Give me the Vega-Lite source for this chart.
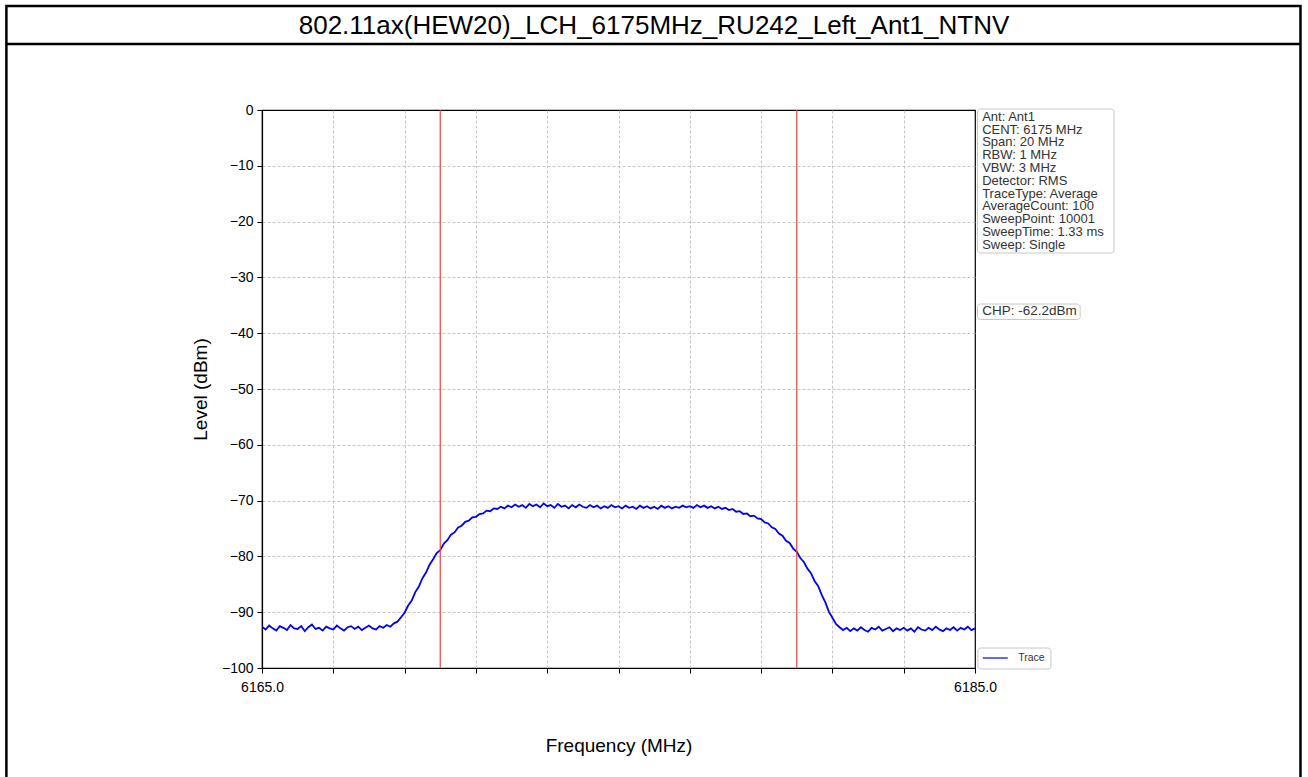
{
  "$schema": "https://vega.github.io/schema/vega-lite/v6.json",
  "width": 713,
  "height": 558,
  "autosize": {"type": "none"},
  "padding": {"left": 262, "top": 110, "right": 333, "bottom": 109},
  "background": "white",
  "title": {
    "text": "802.11ax(HEW20)_LCH_6175MHz_RU242_Left_Ant1_NTNV",
    "anchor": "middle",
    "frame": "group",
    "dx": 35.5,
    "offset": -55,
    "baseline": "alphabetic",
    "font": "Liberation Sans",
    "fontSize": 26,
    "fontWeight": "normal",
    "color": "black"
  },
  "datasets": {
    "trace": [
      {"freq": 6165.0, "level": -92.6}, {"freq": 6165.1, "level": -93.1}, {"freq": 6165.2, "level": -92.4}, {"freq": 6165.3, "level": -92.9}, {"freq": 6165.4, "level": -93.3},
      {"freq": 6165.5, "level": -92.5}, {"freq": 6165.6, "level": -92.8}, {"freq": 6165.7, "level": -93.2}, {"freq": 6165.8, "level": -92.3}, {"freq": 6165.9, "level": -92.9},
      {"freq": 6166.0, "level": -93.0}, {"freq": 6166.1, "level": -92.5}, {"freq": 6166.2, "level": -93.4}, {"freq": 6166.3, "level": -92.7}, {"freq": 6166.4, "level": -92.2},
      {"freq": 6166.5, "level": -93.0}, {"freq": 6166.6, "level": -92.8}, {"freq": 6166.7, "level": -93.3}, {"freq": 6166.8, "level": -92.6}, {"freq": 6166.9, "level": -92.9},
      {"freq": 6167.0, "level": -93.1}, {"freq": 6167.1, "level": -92.4}, {"freq": 6167.2, "level": -92.9}, {"freq": 6167.3, "level": -93.3}, {"freq": 6167.4, "level": -92.7},
      {"freq": 6167.5, "level": -92.5}, {"freq": 6167.6, "level": -93.0}, {"freq": 6167.7, "level": -92.6}, {"freq": 6167.8, "level": -93.2}, {"freq": 6167.9, "level": -92.8},
      {"freq": 6168.0, "level": -92.4}, {"freq": 6168.1, "level": -92.9}, {"freq": 6168.2, "level": -93.1}, {"freq": 6168.3, "level": -92.5}, {"freq": 6168.4, "level": -92.8},
      {"freq": 6168.5, "level": -92.3}, {"freq": 6168.6, "level": -92.6}, {"freq": 6168.7, "level": -92.0}, {"freq": 6168.8, "level": -91.7}, {"freq": 6168.9, "level": -90.9},
      {"freq": 6169.0, "level": -90.1}, {"freq": 6169.1, "level": -88.8}, {"freq": 6169.2, "level": -87.9}, {"freq": 6169.3, "level": -86.4}, {"freq": 6169.4, "level": -85.4},
      {"freq": 6169.5, "level": -83.9}, {"freq": 6169.6, "level": -82.9}, {"freq": 6169.7, "level": -81.5}, {"freq": 6169.8, "level": -80.5}, {"freq": 6169.9, "level": -79.4},
      {"freq": 6170.0, "level": -78.9}, {"freq": 6170.1, "level": -77.7}, {"freq": 6170.2, "level": -77.1}, {"freq": 6170.3, "level": -76.1}, {"freq": 6170.4, "level": -75.7},
      {"freq": 6170.5, "level": -74.8}, {"freq": 6170.6, "level": -74.5}, {"freq": 6170.7, "level": -73.8}, {"freq": 6170.8, "level": -73.6}, {"freq": 6170.9, "level": -73.0},
      {"freq": 6171.0, "level": -72.9}, {"freq": 6171.1, "level": -72.4}, {"freq": 6171.2, "level": -72.3}, {"freq": 6171.3, "level": -71.8}, {"freq": 6171.4, "level": -71.9},
      {"freq": 6171.5, "level": -71.4}, {"freq": 6171.6, "level": -71.5}, {"freq": 6171.7, "level": -71.1}, {"freq": 6171.8, "level": -71.4}, {"freq": 6171.9, "level": -70.9},
      {"freq": 6172.0, "level": -71.2}, {"freq": 6172.1, "level": -70.7}, {"freq": 6172.2, "level": -71.1}, {"freq": 6172.3, "level": -70.8}, {"freq": 6172.4, "level": -71.3},
      {"freq": 6172.5, "level": -70.6}, {"freq": 6172.6, "level": -71.0}, {"freq": 6172.7, "level": -70.7}, {"freq": 6172.8, "level": -71.2}, {"freq": 6172.9, "level": -70.5},
      {"freq": 6173.0, "level": -71.0}, {"freq": 6173.1, "level": -70.8}, {"freq": 6173.2, "level": -71.3}, {"freq": 6173.3, "level": -70.6}, {"freq": 6173.4, "level": -71.1},
      {"freq": 6173.5, "level": -70.9}, {"freq": 6173.6, "level": -71.4}, {"freq": 6173.7, "level": -70.8}, {"freq": 6173.8, "level": -71.2}, {"freq": 6173.9, "level": -70.7},
      {"freq": 6174.0, "level": -71.1}, {"freq": 6174.1, "level": -71.3}, {"freq": 6174.2, "level": -70.8}, {"freq": 6174.3, "level": -71.2}, {"freq": 6174.4, "level": -70.9},
      {"freq": 6174.5, "level": -71.4}, {"freq": 6174.6, "level": -71.0}, {"freq": 6174.7, "level": -71.3}, {"freq": 6174.8, "level": -70.8}, {"freq": 6174.9, "level": -71.2},
      {"freq": 6175.0, "level": -71.0}, {"freq": 6175.1, "level": -71.4}, {"freq": 6175.2, "level": -70.9}, {"freq": 6175.3, "level": -71.3}, {"freq": 6175.4, "level": -71.1},
      {"freq": 6175.5, "level": -71.5}, {"freq": 6175.6, "level": -70.9}, {"freq": 6175.7, "level": -71.3}, {"freq": 6175.8, "level": -71.0}, {"freq": 6175.9, "level": -71.4},
      {"freq": 6176.0, "level": -71.1}, {"freq": 6176.1, "level": -71.5}, {"freq": 6176.2, "level": -70.9}, {"freq": 6176.3, "level": -71.3}, {"freq": 6176.4, "level": -71.0},
      {"freq": 6176.5, "level": -71.4}, {"freq": 6176.6, "level": -71.1}, {"freq": 6176.7, "level": -71.3}, {"freq": 6176.8, "level": -70.9}, {"freq": 6176.9, "level": -71.2},
      {"freq": 6177.0, "level": -71.0}, {"freq": 6177.1, "level": -71.3}, {"freq": 6177.2, "level": -70.8}, {"freq": 6177.3, "level": -71.2}, {"freq": 6177.4, "level": -70.9},
      {"freq": 6177.5, "level": -71.3}, {"freq": 6177.6, "level": -71.0}, {"freq": 6177.7, "level": -71.4}, {"freq": 6177.8, "level": -71.1}, {"freq": 6177.9, "level": -71.5},
      {"freq": 6178.0, "level": -71.3}, {"freq": 6178.1, "level": -71.7}, {"freq": 6178.2, "level": -71.5}, {"freq": 6178.3, "level": -72.0}, {"freq": 6178.4, "level": -71.9},
      {"freq": 6178.5, "level": -72.4}, {"freq": 6178.6, "level": -72.3}, {"freq": 6178.7, "level": -72.8}, {"freq": 6178.8, "level": -72.7}, {"freq": 6178.9, "level": -73.2},
      {"freq": 6179.0, "level": -73.3}, {"freq": 6179.1, "level": -73.9}, {"freq": 6179.2, "level": -74.1}, {"freq": 6179.3, "level": -74.8}, {"freq": 6179.4, "level": -75.1},
      {"freq": 6179.5, "level": -75.9}, {"freq": 6179.6, "level": -76.3}, {"freq": 6179.7, "level": -77.2}, {"freq": 6179.8, "level": -77.6}, {"freq": 6179.9, "level": -78.6},
      {"freq": 6180.0, "level": -79.2}, {"freq": 6180.1, "level": -80.3}, {"freq": 6180.2, "level": -81.0}, {"freq": 6180.3, "level": -82.2}, {"freq": 6180.4, "level": -83.0},
      {"freq": 6180.5, "level": -84.4}, {"freq": 6180.6, "level": -85.3}, {"freq": 6180.7, "level": -86.9}, {"freq": 6180.8, "level": -88.2}, {"freq": 6180.9, "level": -89.9},
      {"freq": 6181.0, "level": -91.0}, {"freq": 6181.1, "level": -92.1}, {"freq": 6181.2, "level": -92.7}, {"freq": 6181.3, "level": -93.2}, {"freq": 6181.4, "level": -92.8},
      {"freq": 6181.5, "level": -93.4}, {"freq": 6181.6, "level": -92.9}, {"freq": 6181.7, "level": -93.3}, {"freq": 6181.8, "level": -92.7}, {"freq": 6181.9, "level": -93.2},
      {"freq": 6182.0, "level": -93.5}, {"freq": 6182.1, "level": -92.8}, {"freq": 6182.2, "level": -93.1}, {"freq": 6182.3, "level": -92.6}, {"freq": 6182.4, "level": -93.3},
      {"freq": 6182.5, "level": -93.0}, {"freq": 6182.6, "level": -92.7}, {"freq": 6182.7, "level": -93.4}, {"freq": 6182.8, "level": -92.9}, {"freq": 6182.9, "level": -93.2},
      {"freq": 6183.0, "level": -92.8}, {"freq": 6183.1, "level": -93.3}, {"freq": 6183.2, "level": -92.9}, {"freq": 6183.3, "level": -93.5}, {"freq": 6183.4, "level": -92.7},
      {"freq": 6183.5, "level": -93.1}, {"freq": 6183.6, "level": -93.3}, {"freq": 6183.7, "level": -92.8}, {"freq": 6183.8, "level": -93.2}, {"freq": 6183.9, "level": -92.6},
      {"freq": 6184.0, "level": -93.1}, {"freq": 6184.1, "level": -93.4}, {"freq": 6184.2, "level": -92.9}, {"freq": 6184.3, "level": -93.2}, {"freq": 6184.4, "level": -92.7},
      {"freq": 6184.5, "level": -93.3}, {"freq": 6184.6, "level": -92.8}, {"freq": 6184.7, "level": -93.1}, {"freq": 6184.8, "level": -92.6}, {"freq": 6184.9, "level": -93.2},
      {"freq": 6185.0, "level": -92.9}
    ],
    "markers": [{"freq": 6170.0}, {"freq": 6180.0}],
    "info": [{"text": "Ant: Ant1\nCENT: 6175 MHz\nSpan: 20 MHz\nRBW: 1 MHz\nVBW: 3 MHz\nDetector: RMS\nTraceType: Average\nAverageCount: 100\nSweepPoint: 10001\nSweepTime: 1.33 ms\nSweep: Single"}],
    "chp": [{"text": "CHP: -62.2dBm"}],
    "legend": [{"text": "Trace"}],
    "frame": [{}]
  },
  "layer": [
    {
      "data": {"name": "frame"},
      "mark": {"type": "rect", "filled": false, "stroke": "black", "strokeWidth": 2.5, "clip": false},
      "encoding": {
        "x": {"datum": 6157.83, "type": "quantitative", "scale": {"domain": [6165, 6185], "nice": false, "zero": false}},
        "x2": {"datum": 6194.13},
        "y": {"datum": 18.64, "type": "quantitative", "scale": {"domain": [-100, 0], "nice": false, "zero": false}},
        "y2": {"datum": -123.7}
      }
    },
    {
      "data": {"name": "frame"},
      "mark": {"type": "rule", "stroke": "black", "strokeWidth": 2.5, "clip": false},
      "encoding": {
        "x": {"datum": 6157.83, "type": "quantitative"},
        "x2": {"datum": 6194.13},
        "y": {"datum": 11.83, "type": "quantitative"}
      }
    },
    {
      "data": {"name": "trace"},
      "mark": {"type": "line", "stroke": "#0000ff", "strokeWidth": 1.8, "clip": true},
      "encoding": {
        "x": {
          "field": "freq", "type": "quantitative",
          "scale": {"domain": [6165, 6185], "nice": false, "zero": false},
          "axis": {
            "title": "Frequency (MHz)",
            "values": [6165, 6167, 6169, 6171, 6173, 6175, 6177, 6179, 6181, 6183, 6185],
            "labelExpr": "(datum.value == 6165 || datum.value == 6185) ? format(datum.value, '.1f') : ''",
            "labelFlush": false,
            "labelOverlap": false,
            "labelPadding": 7,
            "titlePadding": 42,
            "gridOpacity": {"condition": {"test": "datum.value == 6165 || datum.value == 6185", "value": 0}, "value": 1}
          }
        },
        "y": {
          "field": "level", "type": "quantitative",
          "scale": {"domain": [-100, 0], "nice": false, "zero": false},
          "axis": {
            "title": "Level (dBm)",
            "values": [-100, -90, -80, -70, -60, -50, -40, -30, -20, -10, 0],
            "format": "d",
            "titlePadding": 11,
            "gridOpacity": {"condition": {"test": "datum.value == 0 || datum.value == -100", "value": 0}, "value": 1}
          }
        }
      }
    },
    {
      "data": {"name": "markers"},
      "mark": {"type": "rule", "stroke": "#ee4444", "strokeWidth": 1.2},
      "encoding": {
        "x": {"field": "freq", "type": "quantitative"}
      }
    },
    {
      "data": {"name": "frame"},
      "mark": {"type": "rect", "fill": "white", "stroke": "#c8c8c8", "strokeWidth": 1, "cornerRadius": 3, "clip": false},
      "encoding": {
        "x": {"datum": 6185.07, "type": "quantitative"},
        "x2": {"datum": 6188.9},
        "y": {"datum": 0.18, "type": "quantitative"},
        "y2": {"datum": -25.63}
      }
    },
    {
      "data": {"name": "info"},
      "mark": {"type": "text", "align": "left", "baseline": "top", "lineBreak": "\n", "lineHeight": 12.8, "fontSize": 13, "font": "Liberation Sans", "color": "#333333", "clip": false},
      "encoding": {
        "x": {"datum": 6185.2, "type": "quantitative"},
        "y": {"datum": -0.15, "type": "quantitative"},
        "text": {"field": "text"}
      }
    },
    {
      "data": {"name": "frame"},
      "mark": {"type": "rect", "fill": "white", "stroke": "#c8c8c8", "strokeWidth": 1, "cornerRadius": 3, "clip": false},
      "encoding": {
        "x": {"datum": 6185.07, "type": "quantitative"},
        "x2": {"datum": 6187.95},
        "y": {"datum": -34.77, "type": "quantitative"},
        "y2": {"datum": -37.54}
      }
    },
    {
      "data": {"name": "chp"},
      "mark": {"type": "text", "align": "left", "baseline": "middle", "fontSize": 13.5, "font": "Liberation Sans", "color": "#333333", "clip": false},
      "encoding": {
        "x": {"datum": 6185.2, "type": "quantitative"},
        "y": {"datum": -36.11, "type": "quantitative"},
        "text": {"field": "text"}
      }
    },
    {
      "data": {"name": "frame"},
      "mark": {"type": "rect", "fill": "white", "stroke": "#c8c8c8", "strokeWidth": 1, "cornerRadius": 3, "clip": false},
      "encoding": {
        "x": {"datum": 6185.08, "type": "quantitative"},
        "x2": {"datum": 6187.13},
        "y": {"datum": -96.42, "type": "quantitative"},
        "y2": {"datum": -100.18}
      }
    },
    {
      "data": {"name": "frame"},
      "mark": {"type": "rule", "stroke": "#3333ff", "strokeWidth": 1.5, "clip": false},
      "encoding": {
        "x": {"datum": 6185.22, "type": "quantitative"},
        "x2": {"datum": 6185.92},
        "y": {"datum": -98.21, "type": "quantitative"}
      }
    },
    {
      "data": {"name": "legend"},
      "mark": {"type": "text", "align": "left", "baseline": "middle", "fontSize": 10.5, "font": "Liberation Sans", "color": "#333333", "clip": false},
      "encoding": {
        "x": {"datum": 6186.21, "type": "quantitative"},
        "y": {"datum": -98.21, "type": "quantitative"},
        "text": {"field": "text"}
      }
    }
  ],
  "config": {
    "font": "Liberation Sans",
    "view": {"stroke": "black", "strokeWidth": 1.2},
    "axis": {
      "grid": true,
      "gridColor": "#b8b8b8",
      "gridDash": [3, 2],
      "gridWidth": 0.8,
      "domainColor": "black",
      "domainWidth": 1.2,
      "tickColor": "black",
      "tickSize": 5,
      "tickWidth": 1,
      "labelColor": "black",
      "labelFontSize": 14,
      "labelFont": "Liberation Sans",
      "labelPadding": 4,
      "titleColor": "black",
      "titleFont": "Liberation Sans",
      "titleFontSize": 19,
      "titleFontWeight": "normal"
    }
  }
}
